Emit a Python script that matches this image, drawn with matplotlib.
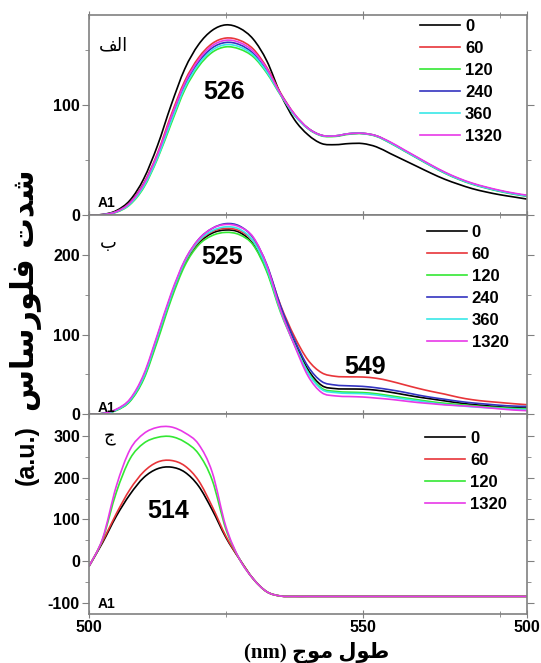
import matplotlib
matplotlib.use("Agg")
import matplotlib.pyplot as plt
import numpy as np
from matplotlib.ticker import FixedLocator
from matplotlib.path import Path
from matplotlib.patches import PathPatch
from matplotlib.lines import Line2D

# wavelength grid (nm)
wl = [500, 502.5, 505, 507.5, 510, 512.5, 515, 517.5, 520, 522.5, 525, 527.5,
      530, 532.5, 535, 537.5, 540, 542.5, 545, 547.5, 550, 552.5, 555, 557.5,
      560, 562.5, 565, 567.5, 570, 572.5, 575, 577.5, 580]

# panel A (top)
a_labels = ['0', '60', '120', '240', '360', '1320']
a_0 = [0, 0.5, 4, 13.5, 33, 63, 100, 133, 155, 168, 173, 170, 160, 140, 110, 87, 73, 65, 64, 65, 65,
       62, 56, 50, 44, 38, 32.5, 28, 24, 21, 18.5, 16.5, 14.5]
a_60 = [0, 0.3, 3.2, 11.5, 29, 56, 91, 122, 143, 156, 161, 159, 151, 134, 111, 92, 79, 72.5, 72, 74,
        74.3, 72, 66, 59, 52, 45, 38.5, 33, 28.5, 25, 22, 19.5, 17.5]
a_120 = [0, 0.2, 2.5, 9.5, 25, 51, 83, 114, 135, 148, 153, 151, 144, 129, 109, 91, 78.5, 72, 71.5,
         73.5, 74, 71.5, 65.5, 58.5, 51.5, 44.5, 38, 32.5, 28, 24.5, 21.5, 19, 17]
a_240 = [0, 0.3, 3, 11, 28, 54, 87, 118, 139, 152, 157, 155, 147, 131, 110, 91.5, 79, 72.5, 72, 74,
         74.3, 72, 66, 59, 52, 45, 38.5, 33, 28.5, 25, 22, 19.5, 17.5]
a_360 = [0, 0.2, 2.8, 10, 26, 52, 85, 116, 137, 150, 155, 153, 145.5, 130, 109.5, 91, 78.7, 72.3, 72,
         74, 74.2, 71.8, 65.8, 58.8, 51.8, 44.8, 38.3, 32.8, 28.3, 24.8, 21.8, 19.3, 17.3]
a_1320 = [0, 0.3, 3, 11, 28, 55, 89, 120, 141, 154, 159, 157, 149, 133, 110, 92, 79, 72.5, 72, 74,
          74.3, 72, 66.5, 59.5, 52.5, 45.5, 39, 33.5, 29, 25.5, 22.5, 20, 18]

# panel B (middle)
b_labels = ['0', '60', '120', '240', '360', '1320']
b_0 = [0, 0.5, 5, 17, 46, 95, 147, 190, 215, 228, 232, 229, 214, 181, 131, 91, 56, 36, 32, 31.5,
       31.3, 30, 27.5, 24.5, 21.5, 19, 16.5, 14, 12, 10.5, 9, 8, 7.5]
b_60 = [0, 0.5, 5, 17.5, 47, 96, 148, 191, 217, 230, 234, 231, 218, 186, 137, 98, 68, 52, 47.5, 46.8,
        46.6, 45, 41.5, 37, 32.5, 28.5, 25, 21, 18, 16, 14.5, 13, 11.7]
b_120 = [0, 0.4, 4.5, 16, 44, 92, 144, 187, 213, 225, 229, 226, 213, 179, 128, 88, 53, 32.5, 28.5,
         27.5, 27, 25.5, 23, 20.5, 18, 15.5, 13.5, 12, 10.5, 9, 8, 7, 6.5]
b_240 = [0, 0.5, 5.5, 18, 48, 98, 150, 193, 220, 234, 240, 237, 222, 188, 136, 94, 60, 41, 36.5, 35.5,
         34.8, 33, 30.5, 27.5, 24, 21, 18.5, 16, 14, 12.5, 11, 10, 9.5]
b_360 = [0, 0.5, 5, 17.5, 47, 97, 149, 192, 218, 231, 236, 233, 218, 183, 130, 88, 52, 31, 27, 26,
         25.6, 24, 21.5, 19, 16.5, 14, 12, 10.5, 9, 8, 7, 6, 5.5]
b_1320 = [0, 0.6, 6, 19, 50, 100, 152, 194, 220, 234, 239, 236, 223, 187, 131, 87, 48, 27, 22.8, 22,
          21.4, 20, 18.5, 16.5, 14.5, 13, 11.5, 10.5, 9.5, 8, 6.5, 5, 4.2]

# panel C (bottom)
c_labels = ['0', '60', '120', '1320']
c_0 = [-12, 45, 108, 160, 200, 221, 225, 213, 180, 123, 57, 5, -42, -73, -83, -84, -84, -84, -84,
       -84, -84, -84, -84, -84, -84, -84, -84, -84, -84, -84, -84, -84, -84]
c_60 = [-12, 48, 114, 172, 214, 237, 241, 228, 193, 131, 60, 5, -42, -73, -83, -84, -84, -84, -84,
        -84, -84, -84, -84, -84, -84, -84, -84, -84, -84, -84, -84, -84, -84]
c_120 = [-12, 53, 165, 245, 282, 296, 298, 285, 257, 194, 77, 5, -42, -73, -83, -84, -84, -84, -84,
         -84, -84, -84, -84, -84, -84, -84, -84, -84, -84, -84, -84, -84, -84]
c_1320 = [-12, 55, 180, 267, 305, 320, 321, 307, 280, 213, 83, 5, -42, -73, -83, -84, -84, -84, -84,
          -84, -84, -84, -84, -84, -84, -84, -84, -84, -84, -84, -84, -84, -84]

col = {'0': 'black', '60': '#e8353a', '120': '#33e833', '240': '#3333c0',
       '360': '#38e8e8', '1320': '#e838e8'}

# arabic strings (presentation forms, visual order)
t_alef = '\uFED2\uFEDF\uFE8D'
t_be = '\uFE8F'
t_jim = '\uFE9D'
ylab_ar = '\uFEB1\uFE8E\uFEB3\uFEAD\uFEEE\uFEE0\uFED3 \uFE95\uFEAA\uFEB7'
ylab_unit = '(a.u.)'
xlab = '(nm) \uFE9D\uFEEE\uFEE3 \uFEDD\uFEEE\uFEC3'

plt.rcParams['font.family'] = ['Liberation Sans', 'DejaVu Sans']
plt.rcParams['axes.unicode_minus'] = False


def smooth_line(ax, x, y, color):
    # draw a smooth (Catmull-Rom style bezier) line through the points
    p = np.column_stack([x, y]).astype(float)
    n = len(p)
    verts = [p[0]]
    codes = [Path.MOVETO]
    for i in range(n - 1):
        p0 = p[i - 1] if i > 0 else p[i]
        p3 = p[i + 2] if i + 2 < n else p[i + 1]
        verts += [p[i] + (p[i + 1] - p0) / 6, p[i + 1] - (p3 - p[i]) / 6, p[i + 1]]
        codes += [Path.CURVE4] * 3
    ax.add_patch(PathPatch(Path(verts, codes), fill=False, edgecolor=color, lw=1.2))


fig = plt.figure(figsize=(5.41, 6.63), dpi=100)
L, W = 0.1645, 0.8096
ax1 = fig.add_axes([L, 0.6757, W, 0.3017])
ax2 = fig.add_axes([L, 0.3756, W, 0.3002], sharex=ax1)
ax3 = fig.add_axes([L, 0.0739, W, 0.3017], sharex=ax1)

panels = [
    (ax1, [a_0, a_60, a_120, a_240, a_360, a_1320], a_labels, (0, 182), [0, 100], [50, 150]),
    (ax2, [b_0, b_60, b_120, b_240, b_360, b_1320], b_labels, (0, 251), [0, 100, 200], [50, 150]),
    (ax3, [c_0, c_60, c_120, c_1320], c_labels, (-126, 352), [-100, 0, 100, 200, 300], [-50, 50, 150, 250]),
]
leg_pos = [(0.756, 0.98), (0.771, 0.95), (0.767, 0.915)]

for (ax, series, labels, ylim, yt, ymt), lp in zip(panels, leg_pos):
    handles = []
    for s, lab in zip(series, labels):
        smooth_line(ax, wl, s, col[lab])
        handles.append(Line2D([], [], color=col[lab], lw=1.2, label=lab))
    ax.set_xlim(500, 580)
    ax.set_ylim(*ylim)
    ax.set_yticks(yt)
    ax.yaxis.set_minor_locator(FixedLocator(ymt))
    ax.xaxis.set_minor_locator(FixedLocator([525, 575]))
    for sp in ax.spines.values():
        sp.set_color('#808080')
        sp.set_linewidth(1.2)
    ax.tick_params(axis='both', which='both', top=True, right=True, color='#808080',
                   labelsize=11.5, pad=1.5)
    ax.tick_params(axis='y', which='major', direction='out', length=5)
    ax.tick_params(axis='y', which='minor', direction='out', length=3)
    ax.tick_params(axis='x', which='major', direction='inout', length=6)
    ax.tick_params(axis='x', which='minor', direction='inout', length=4)
    for t in ax.get_yticklabels():
        t.set_fontweight('bold')
    ax.legend(handles=handles, loc='upper left', bbox_to_anchor=lp, frameon=False, borderpad=0,
              borderaxespad=0, handlelength=2.4, handletextpad=0.3, labelspacing=0.42,
              prop={'weight': 'bold', 'size': 12})

ax3.set_xticks([500, 550, 580])
ax3.set_xticklabels(['500', '550', '500'], fontweight='bold')
ax1.tick_params(axis='x', labelbottom=False)
ax2.tick_params(axis='x', labelbottom=False)

# panel annotations
ax1.text(504.5, 154, t_alef, fontsize=13, ha='center', va='center', family=['DejaVu Sans'])
ax1.text(524.7, 112, '526', fontsize=18, fontweight='bold', ha='center', va='center')
ax1.text(501.5, 11, 'A1', fontsize=10, fontweight='bold', ha='left', va='center')

ax2.text(503.6, 216, t_be, fontsize=13, ha='center', va='center', family=['DejaVu Sans'])
ax2.text(524.4, 198, '525', fontsize=18, fontweight='bold', ha='center', va='center')
ax2.text(550.4, 59, '549', fontsize=18, fontweight='bold', ha='center', va='center')
ax2.text(501.5, 8, 'A1', fontsize=10, fontweight='bold', ha='left', va='center')

ax3.text(503.8, 298, t_jim, fontsize=13, ha='center', va='center', family=['DejaVu Sans'])
ax3.text(514.4, 121, '514', fontsize=18, fontweight='bold', ha='center', va='center')
ax3.text(501.5, -101, 'A1', fontsize=10, fontweight='bold', ha='left', va='center')

# y label: arabic words + unit
fig.text(0.048, 0.563, ylab_ar, rotation=90, fontsize=22, fontweight='bold',
         ha='center', va='center', family=['DejaVu Sans'])
fig.text(0.05, 0.313, ylab_unit, rotation=90, fontsize=18, fontweight='bold',
         ha='center', va='center')
fig.text(0.586, 0.0166, xlab, fontsize=15, fontweight='bold', ha='center', va='center',
         family=['Liberation Serif', 'DejaVu Sans'])

fig.savefig('out.png', dpi=100)
